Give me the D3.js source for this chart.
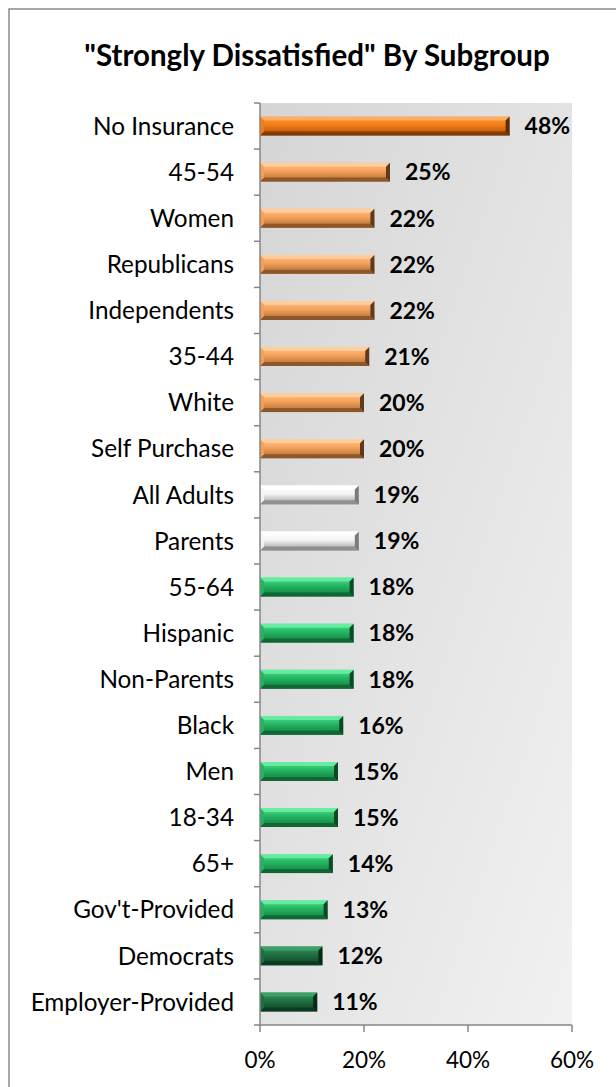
<!DOCTYPE html>
<html><head><meta charset="utf-8">
<script src="https://cdn.jsdelivr.net/npm/d3@7"></script>
<style>html,body{margin:0;padding:0;background:#fff;}svg{display:block;}</style>
</head><body>
<script>
const categories = ["No Insurance","45-54","Women","Republicans","Independents","35-44","White","Self Purchase","All Adults","Parents","55-64","Hispanic","Non-Parents","Black","Men","18-34","65+","Gov't-Provided","Democrats","Employer-Provided"];
const values = [48,25,22,22,22,21,20,20,19,19,18,18,18,16,15,15,14,13,12,11];
const colorGroups = ["darkOrange","orange","orange","orange","orange","orange","orange","orange","white","white","green","green","green","green","green","green","green","green","darkGreen","darkGreen"];
const xTicks = [0,20,40,60];
const title = "\"Strongly Dissatisfied\" By Subgroup";

const palettes = {
  darkOrange:{top:"#ff9a3c", mid:"#f47c16", bot:"#a8500c", hi:"#ffb36a", sh:"#7a3a08", end:"#5e2e08"},
  orange:{top:"#ffc08a", mid:"#f5a059", bot:"#a86a35", hi:"#ffd0a0", sh:"#8a5428", end:"#5e3a1c"},
  white:{top:"#ffffff", mid:"#f4f4f4", bot:"#9a9a9a", hi:"#ffffff", sh:"#8c8c8c", end:"#7a7a7a"},
  green:{top:"#4fe08f", mid:"#22b460", bot:"#137a3e", hi:"#6cf0a4", sh:"#0f6432", end:"#0b4a25"},
  darkGreen:{top:"#36975e", mid:"#1f6f41", bot:"#0f3f23", hi:"#3fa56a", sh:"#0c3a20", end:"#082a17"}
};

const W = 616, H = 1087;
const FONT = "Lato, 'Open Sans', sans-serif";
const svg = d3.select("body").append("svg").attr("width", W).attr("height", H);
const defs = svg.append("defs");

const margin = {left:260, right:44, top:103, bottom:62};
const x = d3.scaleLinear().domain([0,60]).range([margin.left, W - margin.right]);
const y = d3.scaleBand().domain(categories).range([margin.top, H - margin.bottom]).paddingInner(0.59).paddingOuter(0.295);

// outer border
svg.append("rect").attr("x",9).attr("y",9).attr("width",W+20).attr("height",H+20)
  .attr("fill","#fff").attr("stroke","#8a8a8a").attr("stroke-width",1.5);

// title
svg.append("text").attr("x", 317).attr("y", 66).attr("text-anchor","middle")
  .attr("font-family",FONT).attr("font-weight","bold").attr("font-size",29.5)
  .attr("fill","#000").text(title);

// plot background gradient
const bg = defs.append("linearGradient").attr("id","bg").attr("x1","0").attr("y1","0").attr("x2","1").attr("y2","1");
bg.append("stop").attr("offset","0%").attr("stop-color","#d5d5d5");
bg.append("stop").attr("offset","100%").attr("stop-color","#f1f1f1");
svg.append("rect").attr("x", x(0)).attr("y", margin.top).attr("width", x(60)-x(0)).attr("height", H - margin.bottom - margin.top)
  .attr("fill","url(#bg)");

// gradients per palette
Object.entries(palettes).forEach(([k,p])=>{
  const g = defs.append("linearGradient").attr("id","g-"+k).attr("x1","0").attr("y1","0").attr("x2","0").attr("y2","1");
  g.append("stop").attr("offset","0%").attr("stop-color",p.top);
  g.append("stop").attr("offset","45%").attr("stop-color",p.mid);
  g.append("stop").attr("offset","100%").attr("stop-color",p.bot);
});

const bars = svg.append("g").selectAll("g").data(categories).join("g");
const bev = 4;
bars.each(function(c,i){
  const g = d3.select(this);
  const p = palettes[colorGroups[i]];
  const x0 = x(0), x1 = x(values[i]), y0 = y(c), h = y.bandwidth(), y1 = y0 + h;
  g.append("rect").attr("x",x0).attr("y",y0).attr("width",x1-x0).attr("height",h).attr("fill","url(#g-"+colorGroups[i]+")");
  g.append("polygon").attr("points",[[x0,y0],[x1,y0],[x1-bev,y0+bev],[x0+bev,y0+bev]].join(" ")).attr("fill",p.hi).attr("opacity",0.85);
  g.append("polygon").attr("points",[[x0,y1],[x1,y1],[x1-bev,y1-bev],[x0+bev,y1-bev]].join(" ")).attr("fill",p.sh).attr("opacity",0.9);
  g.append("polygon").attr("points",[[x0,y0],[x0+bev,y0+bev],[x0+bev,y1-bev],[x0,y1]].join(" ")).attr("fill",p.mid).attr("opacity",0.9);
  g.append("polygon").attr("points",[[x1,y0],[x1-bev,y0+bev],[x1-bev,y1-bev],[x1,y1]].join(" ")).attr("fill",p.end);
});

// value labels
svg.append("g").selectAll("text").data(categories).join("text")
  .attr("x",(c,i)=>x(values[i]) + 15).attr("y",c=>y(c)+y.bandwidth()/2)
  .attr("dy","0.36em").attr("font-family",FONT).attr("font-weight","bold")
  .attr("font-size",23).attr("fill","#000").text((c,i)=>values[i]+"%");

// y axis
const axisColor = "#868686";
const ya = svg.append("g");
ya.append("line").attr("x1",x(0)).attr("x2",x(0)).attr("y1",margin.top).attr("y2",H-margin.bottom).attr("stroke",axisColor).attr("stroke-width",1.5);
const bounds = d3.range(categories.length+1).map(k=> margin.top + k*(H - margin.bottom - margin.top)/categories.length);
ya.selectAll("line.t").data(bounds).join("line").attr("class","t")
  .attr("x1",x(0)-6).attr("x2",x(0)).attr("y1",d=>d).attr("y2",d=>d).attr("stroke",axisColor).attr("stroke-width",1.5);
ya.selectAll("text").data(categories).join("text")
  .attr("x",x(0)-26).attr("y",c=>y(c)+y.bandwidth()/2).attr("dy","0.36em").attr("text-anchor","end")
  .attr("font-family",FONT).attr("font-size",24.3).attr("fill","#000").text(c=>c);

// x axis
const xa = svg.append("g");
const yb = H - margin.bottom;
xa.append("line").attr("x1",x(0)).attr("x2",x(60)).attr("y1",yb).attr("y2",yb).attr("stroke",axisColor).attr("stroke-width",1.5);
xa.selectAll("line.t").data(xTicks).join("line").attr("class","t")
  .attr("x1",d=>x(d)).attr("x2",d=>x(d)).attr("y1",yb).attr("y2",yb+7).attr("stroke",axisColor).attr("stroke-width",1.5);
xa.selectAll("text").data(xTicks).join("text")
  .attr("x",d=>x(d)).attr("y",yb+43).attr("text-anchor","middle")
  .attr("font-family",FONT).attr("font-size",22.5).attr("fill","#000").text(d=>d+"%");
</script>
</body></html>
